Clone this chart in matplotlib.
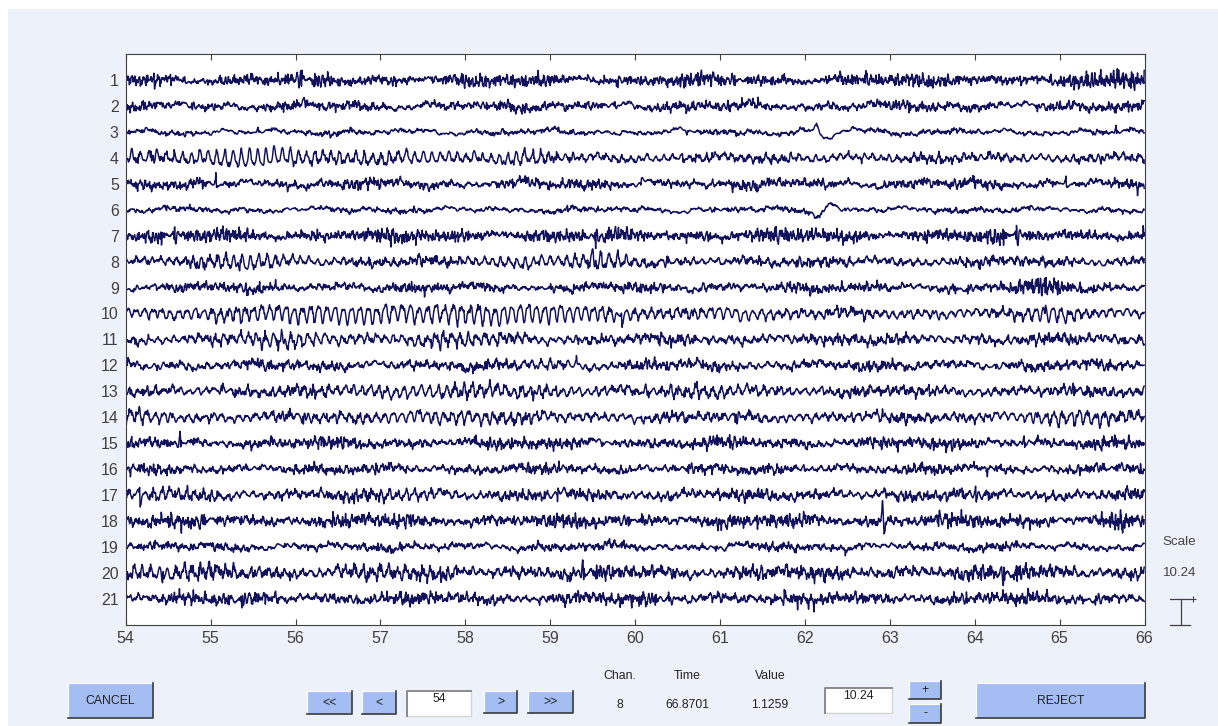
import numpy as np
import matplotlib
matplotlib.use("Agg")
import matplotlib.pyplot as plt
from matplotlib.patches import Rectangle
from matplotlib.lines import Line2D

plt.rcParams["font.family"] = ["Liberation Sans", "DejaVu Sans"]

W, H = 1218, 726

# display window
t_start, t_end = 54, 66
srate = 256
spacing = 10.24
channels = list(range(1, 22))
xticks = list(range(54, 67))

# per-channel levels (display units): fast activity, slow drift, background alpha
hf_amp = [0.90, 0.60, 0.30, 0.48, 0.62, 0.30, 0.95, 0.55, 0.60, 0.48, 0.60,
          0.60, 0.60, 0.55, 0.72, 0.60, 0.66, 0.85, 0.48, 0.85, 0.78]
slow_amp = [0.45, 0.60, 0.55, 0.45, 0.60, 0.50, 0.40, 0.45, 0.50, 0.45, 0.45,
            0.55, 0.45, 0.45, 0.45, 0.45, 0.50, 0.45, 0.55, 0.50, 0.45]
alpha_amp = [0.3, 0.5, 0.35, 0.9, 0.5, 0.35, 0.4, 0.8, 0.5, 1.1, 0.9,
             0.7, 0.9, 1.0, 0.6, 0.6, 0.8, 0.6, 0.5, 0.9, 0.7]
alpha_freq = [10.1, 9.9, 10.0, 10.2, 9.8, 10.0, 10.3, 10.2, 9.9, 10.2, 10.1,
              9.7, 10.2, 10.0, 10.4, 9.9, 10.1, 10.3, 9.8, 10.0, 10.1]

# alpha bursts: (channel, centre s, width s, amplitude)
alpha_bursts = [
    (4, 54.15, 0.15, 0.8), (4, 55.5, 0.55, 2.2), (4, 57.3, 0.6, 1.1), (4, 58.7, 0.2, 1.3),
    (8, 55.4, 0.4, 1.6), (8, 58.7, 0.4, 0.8), (8, 59.6, 0.25, 1.8),
    (10, 56.6, 1.2, 1.8), (10, 58.8, 0.8, 1.6), (10, 61.2, 0.3, 0.8), (10, 64.9, 0.2, 1.5),
    (11, 55.9, 0.45, 1.3), (11, 57.9, 0.45, 1.0),
    (12, 59.0, 0.3, 0.6),
    (13, 57.8, 1.0, 1.0), (13, 60.9, 0.4, 0.8),
    (14, 54.15, 0.25, 1.0), (14, 57.8, 0.7, 0.9), (14, 65.2, 0.4, 1.2),
    (17, 54.4, 0.4, 0.8), (17, 57.3, 0.3, 0.7),
    (20, 54.6, 0.5, 1.1), (20, 57.0, 0.4, 0.9),
]

# transients: (channel, time s, width s, amplitude)
events = [
    (3, 62.13, 0.025, 2.8), (3, 62.28, 0.07, -3.2), (3, 62.62, 0.12, 1.2),
    (6, 62.16, 0.04, -3.2), (6, 62.31, 0.06, 2.8),
    (9, 60.80, 0.01, 1.5), (9, 61.77, 0.01, -1.5), (9, 62.75, 0.01, -1.6), (9, 63.70, 0.01, -1.4),
    (18, 62.915, 0.008, 7.5), (18, 62.935, 0.008, -6.3),
]

# stretches of stronger fast activity: (channel, centre s, width s, gain)
hf_bursts = [
    (1, 65.8, 0.2, 1.0), (1, 63.9, 0.1, 0.7), (9, 64.95, 0.25, 1.4),
    (18, 65.7, 0.1, 1.0), (20, 64.5, 0.1, 0.9),
]

t = np.arange(t_start, t_end, 1.0 / srate)
golden = (np.sqrt(5) - 1) / 2
hf_freqs = np.array([13.7, 16.9, 19.3, 23.1, 27.7, 31.3, 36.1, 41.9, 47.3, 53.9,
                     61.3, 67.9, 73.1, 79.7, 87.1, 94.3, 103.7])
slow_freqs = np.array([0.6, 1.3, 2.1, 3.4, 4.9, 6.3])


def _phases(ci, n, salt):
    k = np.arange(1, n + 1)
    return 2 * np.pi * ((golden * (ci * 17 + k * 7 + salt) + np.sqrt(2) * ci * k) % 1.0)


def _bumps(table, ch):
    out = np.zeros_like(t)
    for c, tc, w, a in table:
        if c == ch:
            out += a * np.exp(-0.5 * ((t - tc) / w) ** 2)
    return out


def channel_trace(ch):
    ci = ch - 1
    tweak = 1 + 0.04 * ((ci * golden) % 1.0 - 0.5)
    ph = _phases(ci, len(hf_freqs), 3)
    hf = sum(np.sin(2 * np.pi * f * tweak * t + p) / f ** 0.3
             for f, p in zip(hf_freqs, ph))
    hf /= hf.std()
    mph = _phases(ci, 2, 11)
    mod = 1 + 0.35 * np.sin(2 * np.pi * 0.43 * t + mph[0]) + 0.25 * np.sin(2 * np.pi * 1.1 * t + mph[1])
    hf *= hf_amp[ci] * mod * (1 + _bumps(hf_bursts, ch))

    sph = _phases(ci, len(slow_freqs), 5)
    slow = sum(np.sin(2 * np.pi * f * tweak * t + p) / (1 + 0.3 * f)
               for f, p in zip(slow_freqs, sph))
    slow *= slow_amp[ci] / slow.std()

    aph = _phases(ci, 3, 9)
    theta = 2 * np.pi * alpha_freq[ci] * t + aph[0] + 0.8 * np.sin(2 * np.pi * 0.3 * t + aph[1])
    alpha = np.sin(theta) + 0.3 * np.sin(2 * theta + aph[2])
    alpha *= alpha_amp[ci] + _bumps(alpha_bursts, ch)

    sig = hf + slow + alpha + _bumps(events, ch)
    return sig - sig.mean()


def fx(x):
    return x / W


def fy(y):
    return 1 - y / H


fig = plt.figure(figsize=(W / 100, H / 100), dpi=100, facecolor="#edf2fa")
# window frame strip along the top and left
fig.patches.append(Rectangle((0, fy(9)), 1, 9 / H, transform=fig.transFigure,
                             facecolor="white", edgecolor="none"))
fig.patches.append(Rectangle((0, 0), 7.5 / W, 1, transform=fig.transFigure,
                             facecolor="white", edgecolor="none"))

ax = fig.add_axes([fx(125.7), fy(624.5), fx(1144.5) - fx(125.7), fy(54.3) - fy(624.5)])
ax.set_facecolor("white")
nch = len(channels)
for ch in channels:
    ax.plot(t, channel_trace(ch) + (nch + 1 - ch) * spacing, color="#12125c", lw=1.05)

ax.set_xlim(t_start, t_end)
ax.set_ylim(0, (nch + 1) * spacing)
ax.set_xticks(xticks)
ax.set_xticklabels([str(v) for v in xticks])
ax.set_yticks([(nch + 1 - ch) * spacing for ch in channels])
ax.set_yticklabels([str(ch) for ch in channels])
ax.tick_params(axis="x", direction="in", length=4, width=0.8, top=True, pad=5,
               labelsize=11.5, labelcolor="#404040", color="#404040")
ax.tick_params(axis="y", length=0, pad=5, labelsize=11.5, labelcolor="#404040")
for s in ax.spines.values():
    s.set_color("#404040")
    s.set_linewidth(0.8)

# scale bar, one channel spacing tall
xs = t_end + 0.43
ax.plot([xs, xs], [0, spacing], color="#404040", lw=0.9, clip_on=False)
ax.plot([xs - 0.13, xs + 0.11], [spacing, spacing], color="#404040", lw=0.9, clip_on=False)
ax.plot([xs - 0.13, xs + 0.11], [0, 0], color="#404040", lw=0.9, clip_on=False)
ax.plot([xs + 0.14], [spacing], marker="+", ms=4, mew=0.8, color="#404040", clip_on=False)
ax.text(xs - 0.02, spacing * 3.2, "Scale", ha="center", va="center", fontsize=9.6, color="#444444")
ax.text(xs - 0.02, spacing * 1.97, f"{spacing:.2f}", ha="center", va="center", fontsize=9.6, color="#444444")

btn_color = "#a4bdf3"


def button(x0, y0, x1, y1, label):
    fig.patches.append(Rectangle((fx(x0), fy(y1)), fx(x1) - fx(x0), fy(y0) - fy(y1),
                                 transform=fig.transFigure, facecolor=btn_color, edgecolor="none"))
    fig.lines.append(Line2D([fx(x0), fx(x0), fx(x1)], [fy(y1), fy(y0), fy(y0)],
                            transform=fig.transFigure, color="white", lw=0.8))
    fig.lines.append(Line2D([fx(x0), fx(x1), fx(x1)], [fy(y1), fy(y1), fy(y0)],
                            transform=fig.transFigure, color="#3a3a3a", lw=1.2))
    fig.text(fx((x0 + x1) / 2), fy((y0 + y1) / 2), label, ha="center", va="center",
             fontsize=8.8, color="#222222")


def edit_box(x0, y0, x1, y1, label):
    fig.patches.append(Rectangle((fx(x0), fy(y1)), fx(x1) - fx(x0), fy(y0) - fy(y1),
                                 transform=fig.transFigure, facecolor="white", edgecolor="none"))
    fig.lines.append(Line2D([fx(x0), fx(x1), fx(x1)], [fy(y1), fy(y1), fy(y0)],
                            transform=fig.transFigure, color="#d4d4d4", lw=1.0))
    fig.lines.append(Line2D([fx(x0), fx(x0), fx(x1)], [fy(y1), fy(y0), fy(y0)],
                            transform=fig.transFigure, color="#8a8a8a", lw=1.4))
    fig.text(fx((x0 + x1) / 2), fy(y0 + 8), label, ha="center", va="center",
             fontsize=8.8, color="#222222")


button(68, 683, 153, 718, "CANCEL")
button(307, 691, 352, 714, "<<")
button(362, 691, 396, 714, "<")
edit_box(407, 691, 471, 716, f"{t_start}")
button(484, 691, 517, 713, ">")
button(528, 691, 573, 713, ">>")
edit_box(825, 688, 892, 713, f"{spacing:.2f}")
button(909, 681, 941, 699, "+")
button(909, 704, 941, 723, "-")
button(976, 683, 1145, 718, "REJECT")

# cursor readout
readout = [("Chan.", "8", 620), ("Time", "66.8701", 687), ("Value", "1.1259", 770)]
for head, val, xc in readout:
    fig.text(fx(xc), fy(676), head, ha="center", va="center", fontsize=8.8, color="#222222")
    fig.text(fx(xc), fy(705), val, ha="center", va="center", fontsize=8.8, color="#222222")

fig.savefig("out.png", dpi=100, facecolor=fig.get_facecolor())
